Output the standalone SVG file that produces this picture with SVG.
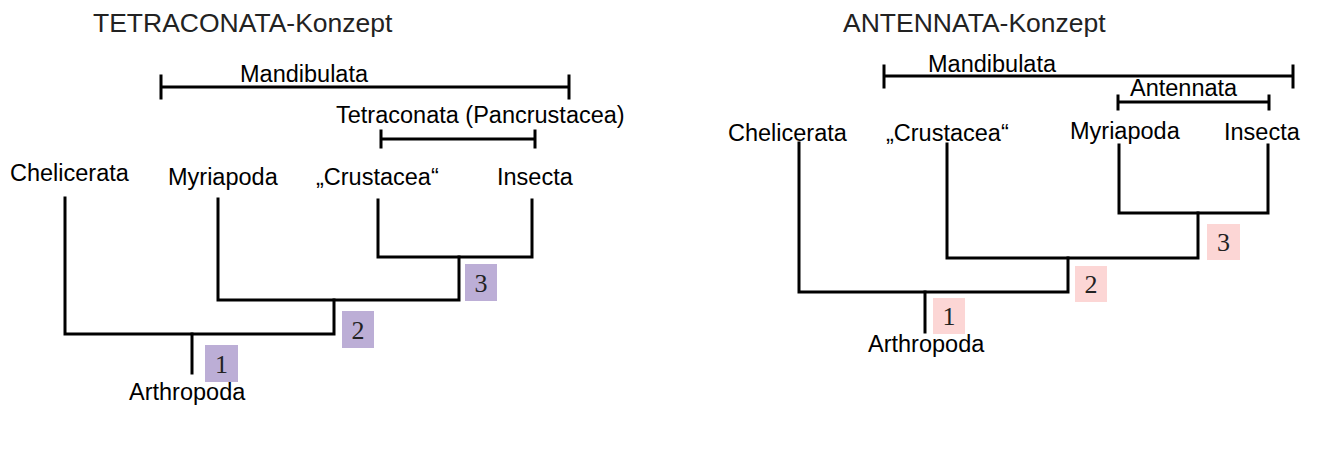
<svg xmlns="http://www.w3.org/2000/svg" width="1334" height="453" viewBox="0 0 1334 453">
<style>
.t{font-family:"Liberation Sans",Arial,sans-serif;font-size:26.5px;fill:#222}
.l{font-family:"Liberation Sans",Arial,sans-serif;font-size:23.5px;fill:#000}
.n{font-family:"Liberation Serif","Times New Roman",serif;font-size:26px;fill:#222;text-anchor:middle}
.e{fill:none;stroke:#000;stroke-width:3;stroke-linecap:square}
.bp{fill:#bcaed6}
.bk{fill:#fcd6d5}
</style>
<rect width="1334" height="453" fill="#fff"/>
<g id="left">
<text class="t" x="93" y="32">TETRACONATA-Konzept</text>
<g id="l-mandibulata"><text class="l" x="240" y="82">Mandibulata</text><path class="e" d="M161 87H569M161 76V98M569 76V98"/></g>
<g id="l-tetraconata"><text class="l" x="336" y="123">Tetraconata (Pancrustacea)</text><path class="e" d="M381 139H535M381 131V147M535 131V147"/></g>
<g id="l-chelicerata"><text class="l" x="10" y="181">Chelicerata</text></g>
<g id="l-myriapoda"><text class="l" x="168" y="185">Myriapoda</text></g>
<g id="l-crustacea"><text class="l" x="316" y="185">„Crustacea“</text></g>
<g id="l-insecta"><text class="l" x="497" y="185">Insecta</text></g>
<g id="l-arthropoda"><text class="l" x="129" y="400">Arthropoda</text></g>
<g id="l-node1"><rect class="bp" x="205" y="345" width="33" height="37"/><text class="n" x="221.5" y="373">1</text></g>
<g id="l-node2"><rect class="bp" x="342" y="311" width="32" height="37"/><text class="n" x="358" y="339">2</text></g>
<g id="l-node3"><rect class="bp" x="465" y="264" width="32" height="37"/><text class="n" x="481" y="292">3</text></g>
<g id="l-connectors">
<path class="e" d="M65 198V334H334V300"/>
<path class="e" d="M218 199V300H459V257"/>
<path class="e" d="M378 200V257H532V200"/>
<path class="e" d="M192 334V373"/>
</g>
</g>
<g id="right">
<text class="t" x="843" y="32">ANTENNATA-Konzept</text>
<g id="r-mandibulata"><text class="l" x="928" y="72">Mandibulata</text><path class="e" d="M884 76H1293M884 66V87M1293 66V87"/></g>
<g id="r-antennata"><text class="l" x="1130" y="96">Antennata</text><path class="e" d="M1118 102H1269M1118 96V109M1269 96V109"/></g>
<g id="r-chelicerata"><text class="l" x="728" y="141">Chelicerata</text></g>
<g id="r-crustacea"><text class="l" x="886" y="141">„Crustacea“</text></g>
<g id="r-myriapoda"><text class="l" x="1070" y="139">Myriapoda</text></g>
<g id="r-insecta"><text class="l" x="1224" y="140">Insecta</text></g>
<g id="r-arthropoda"><text class="l" x="868" y="352">Arthropoda</text></g>
<g id="r-node1"><rect class="bk" x="933" y="298" width="32" height="36"/><text class="n" x="949" y="325">1</text></g>
<g id="r-node2"><rect class="bk" x="1075" y="266" width="32" height="36"/><text class="n" x="1091" y="293">2</text></g>
<g id="r-node3"><rect class="bk" x="1207" y="224" width="33" height="36"/><text class="n" x="1223.5" y="251">3</text></g>
<g id="r-connectors">
<path class="e" d="M799 143V292H1068V258"/>
<path class="e" d="M947 144V258H1198V213"/>
<path class="e" d="M1119 145V213H1268V145"/>
<path class="e" d="M925 292V332"/>
</g>
</g>
</svg>
